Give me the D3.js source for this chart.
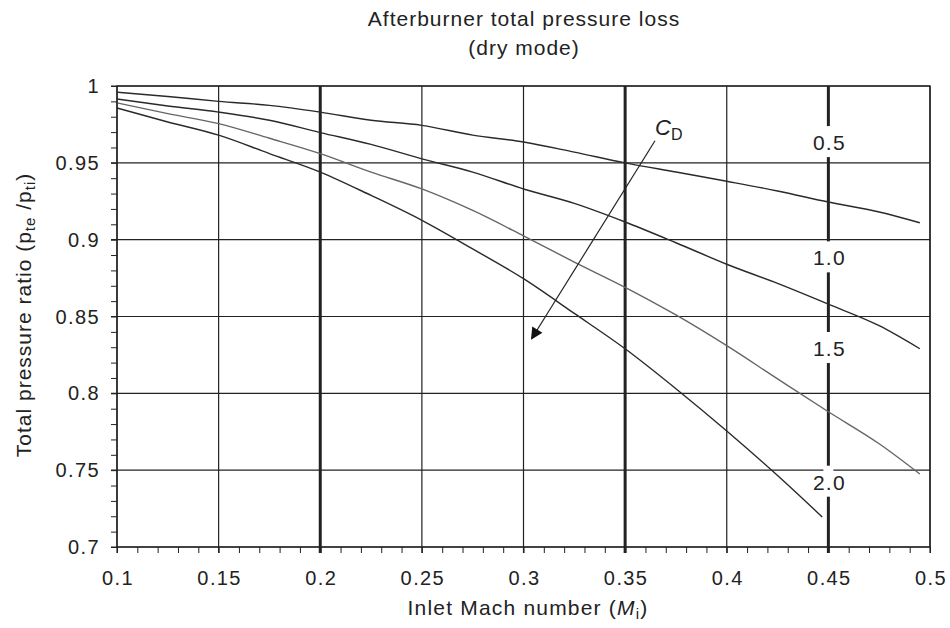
<!DOCTYPE html>
<html>
<head>
<meta charset="utf-8">
<script src="https://cdn.jsdelivr.net/npm/d3@7"></script>
<style>
  body { margin: 0; background: #fff; }
  svg text { font-family: "Liberation Sans", Arial, sans-serif; fill: #222; }
</style>
</head>
<body>
<svg id="chart" width="950" height="628"></svg>
<script>
// Mach numbers sampled along the curves
var machs = [0.1, 0.125, 0.15, 0.175, 0.2, 0.225, 0.25, 0.275, 0.3, 0.325, 0.35, 0.375, 0.4, 0.425, 0.45, 0.475, 0.495];
var machs20 = [0.1, 0.125, 0.15, 0.175, 0.2, 0.225, 0.25, 0.275, 0.3, 0.325, 0.35, 0.375, 0.4, 0.425, 0.447];

// total pressure ratio per drag coefficient
var cd05 = [0.996, 0.9932, 0.990, 0.9874, 0.983, 0.9777, 0.9744, 0.968, 0.9636, 0.957, 0.950, 0.944, 0.938, 0.9317, 0.9245, 0.918, 0.911];
var cd10 = [0.9915, 0.987, 0.983, 0.9777, 0.9697, 0.9620, 0.9526, 0.944, 0.933, 0.9236, 0.9115, 0.898, 0.884, 0.8715, 0.858, 0.844, 0.829];
var cd15 = [0.989, 0.982, 0.9755, 0.966, 0.956, 0.944, 0.933, 0.919, 0.9025, 0.8854, 0.869, 0.851, 0.831, 0.8094, 0.788, 0.7672, 0.7475];
var cd20 = [0.9857, 0.9766, 0.968, 0.956, 0.944, 0.9288, 0.9126, 0.894, 0.8746, 0.852, 0.829, 0.803, 0.7755, 0.7465, 0.7195];

var curveNames = ["0.5", "1.0", "1.5", "2.0"];
var xTicks = [0.1, 0.15, 0.2, 0.25, 0.3, 0.35, 0.4, 0.45, 0.5];
var xTickLabels = ["0.1", "0.15", "0.2", "0.25", "0.3", "0.35", "0.4", "0.45", "0.5"];
var yTicks = [0.7, 0.75, 0.8, 0.85, 0.9, 0.95, 1];
var yTickLabels = ["0.7", "0.75", "0.8", "0.85", "0.9", "0.95", "1"];
var thickX = [0.2, 0.35, 0.45];

(function(){
  var svg = d3.select("#chart");
  var mLeft = 117, mRight = 930, mTop = 86, mBottom = 547;

  var x = d3.scaleLinear().domain([0.1, 0.5]).range([mLeft, mRight]);
  var y = d3.scaleLinear().domain([0.7, 1]).range([mBottom, mTop]);

  // minor ticks every 0.01
  var xMinor = d3.range(0.1, 0.5001, 0.01);
  var yMinor = d3.range(0.7, 1.0001, 0.01);

  svg.append("g")
      .attr("transform", "translate(0," + mBottom + ")")
      .call(d3.axisBottom(x).tickValues(xMinor).tickSize(6).tickFormat(""))
      .call(function(g){ g.select(".domain").remove(); g.selectAll("line").attr("stroke", "#222"); });

  svg.append("g")
      .attr("transform", "translate(" + mLeft + ",0)")
      .call(d3.axisLeft(y).tickValues(yMinor).tickSize(6).tickFormat(""))
      .call(function(g){ g.select(".domain").remove(); g.selectAll("line").attr("stroke", "#222"); });

  // grid
  svg.append("g").selectAll("line")
      .data(yTicks)
    .enter().append("line")
      .attr("x1", mLeft - 6).attr("x2", mRight)
      .attr("y1", y).attr("y2", y)
      .attr("stroke", "#222").attr("stroke-width", 1.2);

  svg.append("g").selectAll("line")
      .data(xTicks)
    .enter().append("line")
      .attr("x1", x).attr("x2", x)
      .attr("y1", mTop).attr("y2", mBottom + 6)
      .attr("stroke", "#222")
      .attr("stroke-width", function(d){ return thickX.indexOf(d) >= 0 ? 3 : 1.2; });

  // tick labels
  svg.append("g").selectAll("text")
      .data(xTicks)
    .enter().append("text")
      .attr("x", function(d){ return x(d) + 1; }).attr("y", mBottom + 38)
      .attr("text-anchor", "middle")
      .style("font-size", "20px").style("letter-spacing", "1.4px")
      .text(function(d, i){ return xTickLabels[i]; });

  svg.append("g").selectAll("text")
      .data(yTicks)
    .enter().append("text")
      .attr("x", mLeft - 17).attr("y", function(d){ return y(d) + 7; })
      .attr("text-anchor", "end")
      .style("font-size", "20px").style("letter-spacing", "1.4px")
      .text(function(d, i){ return yTickLabels[i]; });

  // curve labels on the 0.45 line, with a white gap behind
  var labelVals = [0.9635, 0.8885, 0.8295, 0.7425];
  var lbl = svg.append("g").selectAll("g")
      .data(curveNames)
    .enter().append("g");
  lbl.append("rect")
      .attr("x", x(0.45) - 5).attr("width", 10)
      .attr("y", function(d, i){ return y(labelVals[i]) - 16; })
      .attr("height", 31)
      .attr("fill", "#fff");
  lbl.append("text")
      .attr("x", x(0.45) + 1).attr("y", function(d, i){ return y(labelVals[i]) + 8; })
      .attr("text-anchor", "middle")
      .style("font-size", "21px").style("letter-spacing", "1.2px")
      .text(function(d){ return d; });

  // curves
  var series = [
    {xs: machs, ys: cd05, color: "#2a2a2a"},
    {xs: machs, ys: cd10, color: "#2a2a2a"},
    {xs: machs, ys: cd15, color: "#666"},
    {xs: machs20, ys: cd20, color: "#2a2a2a"}
  ];
  var line = d3.line().curve(d3.curveMonotoneX)
      .x(function(d){ return x(d[0]); })
      .y(function(d){ return y(d[1]); });

  svg.append("g").selectAll("path")
      .data(series)
    .enter().append("path")
      .attr("d", function(s){ return line(s.xs.map(function(m, i){ return [m, s.ys[i]]; })); })
      .attr("fill", "none")
      .attr("stroke", function(s){ return s.color; })
      .attr("stroke-width", 1.4);

  // frame
  svg.append("rect")
      .attr("x", mLeft).attr("y", mTop)
      .attr("width", mRight - mLeft).attr("height", mBottom - mTop)
      .attr("fill", "none").attr("stroke", "#222").attr("stroke-width", 1.4);

  // C_D arrow
  svg.append("defs").append("marker")
      .attr("id", "arrow")
      .attr("viewBox", "0 0 10 10")
      .attr("refX", 9).attr("refY", 5)
      .attr("markerWidth", 13).attr("markerHeight", 12)
      .attr("markerUnits", "userSpaceOnUse")
      .attr("orient", "auto")
    .append("path")
      .attr("d", "M0,0 L10,5 L0,10 z")
      .attr("fill", "#111");

  svg.append("line")
      .attr("x1", x(0.3647)).attr("y1", y(0.9644))
      .attr("x2", x(0.3040)).attr("y2", y(0.8355))
      .attr("stroke", "#222").attr("stroke-width", 1.2)
      .attr("marker-end", "url(#arrow)");

  var cd = svg.append("text")
      .attr("x", 655).attr("y", 135)
      .style("font-size", "22px");
  cd.append("tspan").style("font-style", "italic").text("C");
  cd.append("tspan").attr("dy", 5).style("font-size", "16px").text("D");

  // titles
  svg.append("text")
      .attr("x", 524).attr("y", 26)
      .attr("text-anchor", "middle")
      .style("font-size", "21px").style("letter-spacing", "1px")
      .text("Afterburner total pressure loss");
  svg.append("text")
      .attr("x", 524).attr("y", 55)
      .attr("text-anchor", "middle")
      .style("font-size", "21px").style("letter-spacing", "1px")
      .text("(dry mode)");

  var xl = svg.append("text")
      .attr("x", 528).attr("y", 615)
      .attr("text-anchor", "middle")
      .style("font-size", "21px").style("letter-spacing", "1.2px");
  xl.append("tspan").text("Inlet Mach number (");
  xl.append("tspan").style("font-style", "italic").text("M");
  xl.append("tspan").attr("dy", 4).style("font-size", "15px").text("i");
  xl.append("tspan").attr("dy", -4).text(")");

  var yl = svg.append("text")
      .attr("transform", "translate(31,315) rotate(-90)")
      .attr("text-anchor", "middle")
      .style("font-size", "21px").style("letter-spacing", "1px");
  yl.append("tspan").text("Total pressure ratio (p");
  yl.append("tspan").attr("dy", 4).style("font-size", "15px").text("te");
  yl.append("tspan").attr("dy", -4).text(" /p");
  yl.append("tspan").attr("dy", 4).style("font-size", "15px").text("ti");
  yl.append("tspan").attr("dy", -4).text(")");
})();
</script>
</body>
</html>
